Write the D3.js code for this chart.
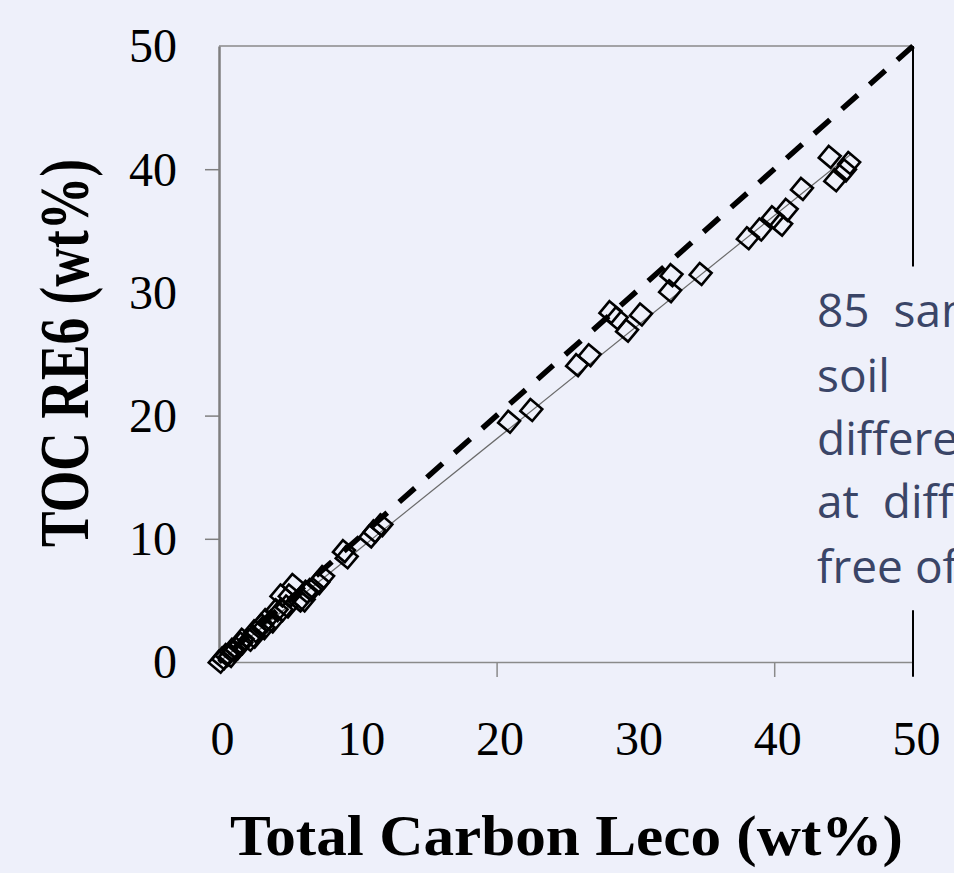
<!DOCTYPE html>
<html>
<head>
<meta charset="utf-8">
<script src="https://cdn.jsdelivr.net/npm/d3@7"></script>
<style>
  html, body { margin: 0; padding: 0; background: #eef0fa; overflow: hidden; }
  svg { display: block; }
</style>
</head>
<body>
<svg id="chart" width="954" height="873"></svg>
<script>
// ---- data ----
const tickLabels = [0, 10, 20, 30, 40, 50];
const yTickMarks = [10, 20, 40];
const xTickMarks = [20, 40];
const totalCarbonLeco = [
  0.05, 0.3, 0.55, 0.8, 1.0, 1.27, 1.6, 1.7, 2.2, 2.5, 2.6, 3.1, 3.2, 3.4, 3.8, 4.15, 4.5, 4.5, 4.9,
  5.1, 5.35, 5.8, 6.1, 6.3, 6.6, 7.15, 7.5, 9.0, 9.2, 10.9, 11.2, 11.7,
  20.9, 22.5, 25.8, 26.7, 28.2, 28.65, 29.4, 30.4, 32.5, 32.6, 34.7,
  38.1, 39.0, 39.9, 40.5, 40.9, 42.0, 44.0, 44.4, 45.1, 45.4
];
const tocRE6 = [
  0.02, 0.3, 0.57, 0.5, 1.0, 1.1, 1.5, 1.8, 1.8, 2.05, 2.5, 3.0, 2.75, 3.4, 3.3, 4.2, 4.2, 5.4, 4.5,
  5.4, 6.25, 5.0, 5.0, 5.7, 5.85, 6.4, 6.9, 9.0, 8.5, 10.2, 10.6, 11.1,
  19.5, 20.45, 24.1, 24.9, 28.4, 27.9, 26.9, 28.2, 30.1, 31.4, 31.5,
  34.4, 35.1, 36.1, 35.5, 36.7, 38.4, 41.0, 39.1, 39.9, 40.5
];
const oneToOneLine = [[50, 50], [0, 0]];
const regressionLine = [[0, 0], [45.5, 41.2]];
const rightMarkerTop = [[50, 50], [50, 32.1]];
const rightMarkerBottom = [[50, 4.2], [50, -1.2]];
const xTitle = "Total Carbon Leco (wt%)";
const yTitle = "TOC RE6 (wt%)";
const noteLines = ["85  samples", "soil", "different", "at  different", "free of"];

(function () {
// ---- layout ----
const svg = d3.select("#chart");
const mLeft = 219, mRight = 913, mTop = 46, mBottom = 662;
const x = d3.scaleLinear().domain([0, 50]).range([mLeft, mRight]);
const y = d3.scaleLinear().domain([0, 50]).range([mBottom, mTop]);
const serif = "'Liberation Serif', 'Times New Roman', serif";

// top border
svg.append("line")
  .attr("x1", x(0)).attr("x2", x(50)).attr("y1", y(50)).attr("y2", y(50))
  .attr("stroke", "#8a8a8a").attr("stroke-width", 1.5);

// left axis (line + ticks)
const yAxisG = svg.append("g").attr("transform", `translate(${mLeft},0)`)
  .call(d3.axisLeft(y).tickValues(yTickMarks).tickSize(14).tickSizeOuter(0).tickFormat(""));
yAxisG.select(".domain").attr("stroke", "#7f7f7f").attr("stroke-width", 2.5);
yAxisG.selectAll(".tick line").attr("stroke", "#7f7f7f").attr("stroke-width", 1.5);

// bottom axis (line + ticks)
const xAxisG = svg.append("g").attr("transform", `translate(0,${mBottom})`)
  .call(d3.axisBottom(x).tickValues(xTickMarks).tickSize(15).tickSizeOuter(0).tickFormat(""));
xAxisG.select(".domain").attr("stroke", "#8a8a8a").attr("stroke-width", 1.5);
xAxisG.selectAll(".tick line").attr("stroke", "#8a8a8a").attr("stroke-width", 1.5);

// y tick labels
const yLab = svg.append("g").attr("transform", `translate(177,0)`)
  .call(d3.axisLeft(y).tickValues(tickLabels).tickSize(0).tickPadding(0).tickFormat(d3.format("d")));
yLab.select(".domain").remove();
yLab.selectAll("text").attr("font-family", serif).attr("font-size", 48).attr("fill", "#000")
  .attr("dy", "0.33em");

// x tick labels
const xLab = svg.append("g").attr("transform", `translate(3,${mBottom})`)
  .call(d3.axisBottom(x).tickValues(tickLabels).tickSize(0).tickPadding(0).tickFormat(d3.format("d")));
xLab.select(".domain").remove();
xLab.selectAll("text").attr("font-family", serif).attr("font-size", 48).attr("fill", "#000")
  .attr("dy", null).attr("y", 93);

// lines
const line = d3.line().x(d => x(d[0])).y(d => y(d[1]));
svg.append("path").datum(regressionLine).attr("d", line)
  .attr("fill", "none").attr("stroke", "#6a6a6a").attr("stroke-width", 1.2);
svg.append("path").datum(oneToOneLine).attr("d", line)
  .attr("fill", "none").attr("stroke", "#000").attr("stroke-width", 5.5)
  .attr("stroke-dasharray", "21,16");
svg.append("path").datum(rightMarkerTop).attr("d", line)
  .attr("fill", "none").attr("stroke", "#000").attr("stroke-width", 2);
svg.append("path").datum(rightMarkerBottom).attr("d", line)
  .attr("fill", "none").attr("stroke", "#000").attr("stroke-width", 2);

// diamonds
const r = 11;
const diamond = `M0,${-r}L${r},0L0,${r}L${-r},0Z`;
svg.append("g").selectAll("path")
  .data(totalCarbonLeco.map((v, i) => [v, tocRE6[i]]))
  .join("path")
  .attr("d", diamond)
  .attr("transform", d => `translate(${x(d[0])},${y(d[1])}) rotate(-5)`)
  .attr("fill", "none").attr("stroke", "#000").attr("stroke-width", 2.6)
  .attr("stroke-linejoin", "miter");

// axis titles
svg.append("text")
  .attr("x", 230).attr("y", 855)
  .attr("font-family", serif).attr("font-weight", "bold").attr("font-size", 57)
  .attr("textLength", 673).attr("lengthAdjust", "spacingAndGlyphs")
  .attr("fill", "#000").text(xTitle);

svg.append("text")
  .attr("transform", `translate(88,353) rotate(-90) scale(1,1.3)`)
  .attr("text-anchor", "middle")
  .attr("font-family", serif).attr("font-weight", "bold").attr("font-size", 53)
  .attr("textLength", 388).attr("lengthAdjust", "spacingAndGlyphs")
  .attr("fill", "#000").text(yTitle);

// note text (cut by the page edge)
svg.append("g").selectAll("text")
  .data(noteLines)
  .join("text")
  .attr("x", 817)
  .attr("y", (d, i) => [327, 392, 455, 518, 583][i])
  .attr("font-family", "'Open Sans', sans-serif").attr("font-size", 46)
  .attr("fill", "#3a4567")
  .style("white-space", "pre")
  .text(d => d);
})();
</script>
</body>
</html>
